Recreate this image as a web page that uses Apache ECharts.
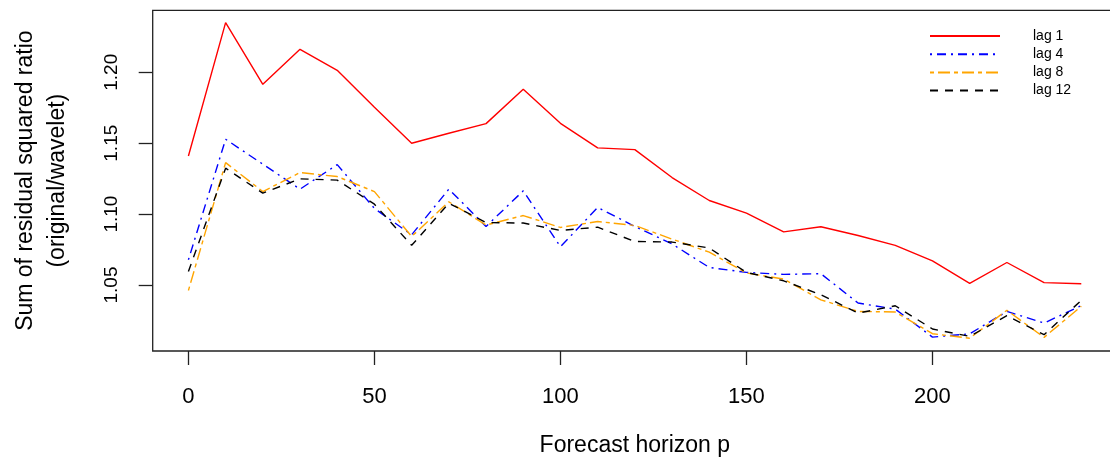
<!DOCTYPE html>
<html>
<head>
<meta charset="utf-8">
<script src="https://cdn.jsdelivr.net/npm/echarts@6/dist/echarts.min.js"></script>
<style>
  html, body { margin: 0; padding: 0; background: #fff; }
  #container { width: 1110px; height: 464px; }
</style>
</head>
<body>
<div id="container"></div>
<script>
var horizons = [0, 10, 20, 30, 40, 50, 60, 70, 80, 90, 100, 110, 120, 130, 140, 150, 160, 170, 180, 190, 200, 210, 220, 230, 240];
var lag1 = [1.141, 1.235, 1.1915, 1.2162, 1.2014, 1.1754, 1.150, 1.157, 1.1638, 1.188, 1.164, 1.1467, 1.1455, 1.1258, 1.1096, 1.1007, 1.0875, 1.0911, 1.0849, 1.078, 1.067, 1.0512, 1.0659, 1.0517, 1.0509];
var lag4 = [1.0678, 1.1528, 1.1352, 1.1176, 1.1349, 1.104, 1.0854, 1.1176, 1.0913, 1.1164, 1.077, 1.1047, 1.0913, 1.079, 1.0624, 1.0589, 1.0575, 1.058, 1.0373, 1.033, 1.0133, 1.0156, 1.0314, 1.0232, 1.0355];
var lag8 = [1.0462, 1.1363, 1.1159, 1.1293, 1.1265, 1.1159, 1.0842, 1.1087, 1.0923, 1.099, 1.0906, 1.0948, 1.092, 1.0824, 1.0732, 1.0585, 1.0542, 1.0396, 1.0314, 1.031, 1.0157, 1.0125, 1.0322, 1.0131, 1.035];
var lag12 = [1.0596, 1.1324, 1.1148, 1.1249, 1.124, 1.107, 1.078, 1.1077, 1.0941, 1.0937, 1.0885, 1.0908, 1.0807, 1.0803, 1.0761, 1.0589, 1.053, 1.0432, 1.0302, 1.0354, 1.019, 1.0138, 1.0284, 1.015, 1.0392];
var xTicks = [0, 50, 100, 150, 200];
var yTicks = [1.05, 1.10, 1.15, 1.20];

var font = 'Liberation Sans, Arial, sans-serif';

function pairs(vals) {
    var obj = [];
    for (var i = 0; i < horizons.length; i++) {
        obj.push([horizons[i], vals[i]]);
    }
    return obj;
}

function lagSeries(name, vals, color, dash) {
    return {
        name: name,
        type: 'line',
        data: pairs(vals),
        symbol: 'none',
        lineStyle: { color: color, width: 1.4, type: dash },
        itemStyle: { color: color },
        emphasis: { disabled: true },
        animation: false
    };
}

var dom = document.getElementById('container');
var myChart = echarts.init(dom, null, { renderer: 'canvas' });

var option = {
    animation: false,
    textStyle: { fontFamily: font, color: '#000' },
    grid: {
        left: 152.7,
        top: 10.3,
        width: 964.3,
        height: 340.7,
        show: true,
        borderColor: '#222',
        borderWidth: 1.3,
        backgroundColor: 'transparent',
        containLabel: false,
        outerBoundsMode: 'none'
    },
    legend: {
        orient: 'vertical',
        left: 924,
        top: 24,
        itemWidth: 70,
        itemHeight: 14,
        itemGap: 4.2,
        selectedMode: false,
        itemStyle: { color: 'rgba(0,0,0,0)', borderWidth: 0, opacity: 0 },
        textStyle: { fontFamily: font, fontSize: 14, color: '#000', padding: [0, 0, 0, 28] },
        data: ['lag 1', 'lag 4', 'lag 8', 'lag 12']
    },
    xAxis: {
        type: 'value',
        min: -9.6,
        max: 249.6,
        splitLine: { show: false },
        axisLine: { show: false, onZero: false },
        axisTick: { show: true, length: 14, customValues: xTicks, lineStyle: { color: '#222', width: 1.3 } },
        axisLabel: { customValues: xTicks, margin: 35, fontSize: 22, fontFamily: font, color: '#000' },
        name: 'Forecast horizon p',
        nameLocation: 'middle',
        nameGap: 83,
        nameTextStyle: { fontSize: 23, fontFamily: font, color: '#000' }
    },
    yAxis: {
        type: 'value',
        min: 1.0035,
        max: 1.2437,
        splitLine: { show: false },
        axisLine: { show: false, onZero: false },
        axisTick: { show: true, length: 14, customValues: yTicks, lineStyle: { color: '#222', width: 1.3 } },
        axisLabel: {
            customValues: yTicks,
            rotate: 90,
            margin: 31,
            fontSize: 19,
            fontFamily: font,
            color: '#000',
            formatter: function (v) { return v.toFixed(2); }
        },
        name: 'Sum of residual squared ratio\n(original/wavelet)',
        nameLocation: 'middle',
        nameRotate: 90,
        nameGap: 79,
        nameTextStyle: { fontSize: 23, lineHeight: 32, fontFamily: font, color: '#000', align: 'center' }
    },
    series: [
        lagSeries('lag 1', lag1, '#ff0000', 'solid'),
        lagSeries('lag 4', lag4, '#0000ff', [2, 5, 9, 5]),
        lagSeries('lag 8', lag8, '#ffa500', [4, 4, 12, 4]),
        lagSeries('lag 12', lag12, '#000000', [8, 7])
    ]
};

myChart.setOption(option);
window.addEventListener('resize', myChart.resize);
</script>
</body>
</html>
